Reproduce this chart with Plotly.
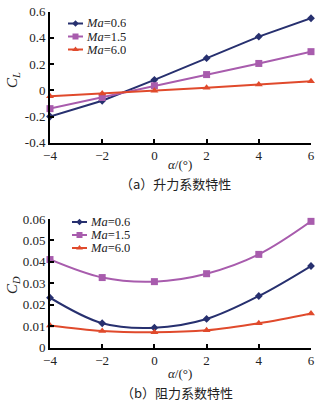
import plotly.graph_objects as go

alpha = [-4, -2, 0, 2, 4, 6]
series_names = ["0.6", "1.5", "6.0"]
cl_06 = [-0.20, -0.08, 0.08, 0.245, 0.41, 0.55]
cl_15 = [-0.14, -0.055, 0.035, 0.12, 0.205, 0.295]
cl_60 = [-0.045, -0.025, -0.003, 0.02, 0.045, 0.07]
cd_06 = [0.0233, 0.0114, 0.0093, 0.0134, 0.0241, 0.0381]
cd_15 = [0.0411, 0.0327, 0.0308, 0.0345, 0.0435, 0.0589]
cd_60 = [0.0104, 0.0078, 0.0072, 0.0081, 0.0114, 0.0160]
x_ticks = [-4, -2, 0, 2, 4, 6]
cl_ticks = [-0.4, -0.2, 0, 0.2, 0.4, 0.6]
cl_ticktext = ["-0.4", "-0.2", "0", "0.2", "0.4", "0.6"]
cd_ticks = [0, 0.01, 0.02, 0.03, 0.04, 0.05, 0.06]
cd_ticktext = ["0", "0.01", "0.02", "0.03", "0.04", "0.05", "0.06"]

W, H = 327, 401
colors = ["#27306f", "#a85cad", "#e04a2c"]
symbols = ["diamond", "square", "triangle-up"]
msizes = [6, 7, 7]
serif = "Liberation Serif"

fig = go.Figure()
for i, ys in enumerate([cl_06, cl_15, cl_60]):
    fig.add_trace(go.Scatter(x=alpha, y=ys, mode="lines+markers", xaxis="x", yaxis="y",
                             line=dict(color=colors[i], width=2),
                             marker=dict(symbol=symbols[i], size=msizes[i], color=colors[i]),
                             cliponaxis=False, showlegend=False))
for i, ys in enumerate([cd_06, cd_15, cd_60]):
    fig.add_trace(go.Scatter(x=alpha, y=ys, mode="lines+markers", xaxis="x2", yaxis="y2",
                             line=dict(color=colors[i], width=2, shape="spline", smoothing=1),
                             marker=dict(symbol=symbols[i], size=msizes[i], color=colors[i]),
                             cliponaxis=False, showlegend=False))

# manual legends (pixel coordinates on an overlay axis)
leg_rows = [([68, 83], [23.5, 36.5, 49.5], 85), ([72, 87], [222, 235, 248], 89)]
annotations = []
for (lx, lys, tx) in leg_rows:
    for i, ly in enumerate(lys):
        fig.add_trace(go.Scatter(x=lx, y=[ly, ly], mode="lines", xaxis="x3", yaxis="y3",
                                 line=dict(color=colors[i], width=2), showlegend=False,
                                 hoverinfo="skip"))
        fig.add_trace(go.Scatter(x=[(lx[0] + lx[1]) / 2], y=[ly], mode="markers", xaxis="x3", yaxis="y3",
                                 marker=dict(symbol=symbols[i], size=msizes[i] - 1, color=colors[i]),
                                 showlegend=False, hoverinfo="skip"))
        annotations.append(dict(x=tx / W, y=1 - ly / H, xref="paper", yref="paper",
                                text="<i>Ma</i>=" + series_names[i], showarrow=False,
                                xanchor="left", yanchor="middle", height=12, borderpad=0,
                                font=dict(family=serif, size=12.5, color="#222")))

def axis_common():
    return dict(showgrid=False, zeroline=False, showline=True, linecolor="black", linewidth=2,
                ticks="inside", ticklen=4, tickwidth=1.5, tickcolor="black", automargin=False,
                tickfont=dict(family=serif, size=13, color="#222"))

x0, x1 = 50 / W, 311 / W
fig.update_layout(
    width=W, height=H, margin=dict(l=0, r=0, t=0, b=0, pad=0), autosize=False,
    paper_bgcolor="white", plot_bgcolor="rgba(0,0,0,0)",
    xaxis=dict(domain=[x0, x1], range=[-4, 6], tickvals=x_ticks, anchor="y", **axis_common()),
    yaxis=dict(domain=[1 - 142.7 / H, 1 - 11.7 / H], range=[-0.4, 0.6], tickvals=cl_ticks,
               ticktext=cl_ticktext, anchor="x", **axis_common()),
    xaxis2=dict(domain=[x0, x1], range=[-4, 6], tickvals=x_ticks, anchor="y2", **axis_common()),
    yaxis2=dict(domain=[1 - 347.7 / H, 1 - 219 / H], range=[0, 0.06], tickvals=cd_ticks,
                ticktext=cd_ticktext, anchor="x2", **axis_common()),
    xaxis3=dict(domain=[0, 1], range=[0, W], visible=False, fixedrange=True, anchor="y3",
                automargin=False),
    yaxis3=dict(domain=[0, 1], range=[H, 0], visible=False, fixedrange=True, anchor="x3",
                automargin=False),
    showlegend=False,
)

titles = [
    dict(x=13, y=80, text="<i>C</i><sub><i>L</i></sub>", angle=-90, fam=serif, size=15),
    dict(x=13, y=285, text="<i>C</i><sub><i>D</i></sub>", angle=-90, fam=serif, size=15),
    dict(x=180, y=164, text="<i>α</i>/(°)", angle=0, fam=serif, size=13),
    dict(x=180, y=373, text="<i>α</i>/(°)", angle=0, fam=serif, size=13),
    dict(x=176, y=183, text="（a）升力系数特性", angle=0, fam="Noto Sans CJK SC", size=13),
    dict(x=177, y=392, text="（b）阻力系数特性", angle=0, fam="Noto Sans CJK SC", size=13),
]
for t in titles:
    annotations.append(dict(x=t["x"] / W, y=1 - t["y"] / H, xref="paper", yref="paper",
                            text=t["text"], textangle=t["angle"], showarrow=False,
                            xanchor="center", yanchor="middle",
                            font=dict(family=t["fam"], size=t["size"], color="#222")))
fig.update_layout(annotations=annotations)
fig.write_html("out.html", config={"displayModeBar": False},
               post_script="document.body.style.margin='0';document.body.style.overflow='hidden';")
